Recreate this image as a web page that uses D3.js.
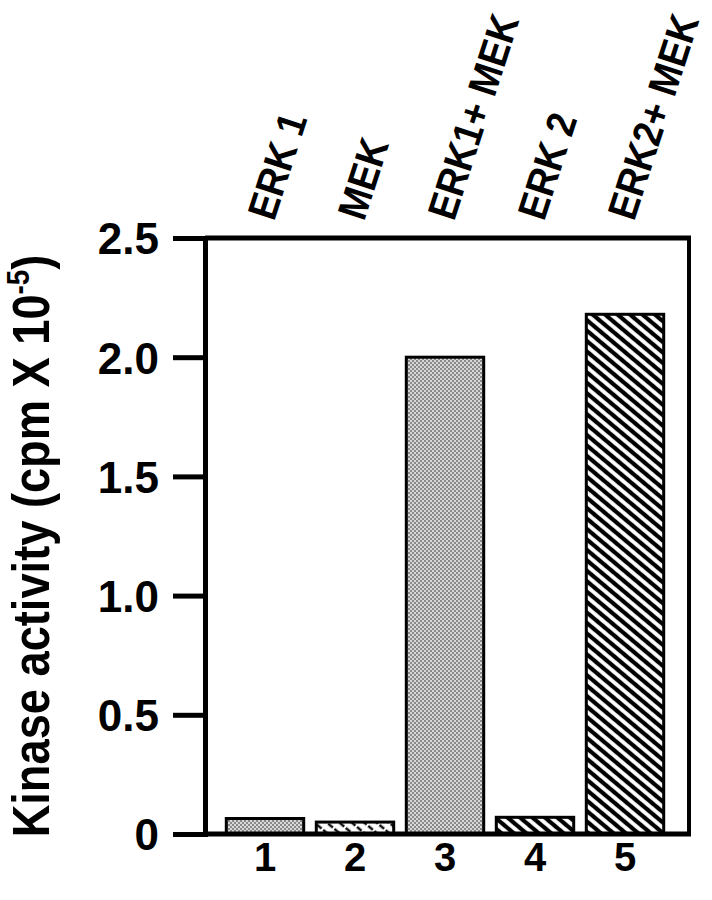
<!DOCTYPE html>
<html>
<head>
<meta charset="utf-8">
<script src="https://cdn.jsdelivr.net/npm/d3@7"></script>
<style>
  body { margin: 0; background: #fff; }
  text { font-family: "Liberation Sans", Arial, Helvetica, sans-serif; font-weight: bold; fill: #000; }
</style>
</head>
<body>
<div class="visHolder"></div>
<script>
const w = 712;
const h = 900;

// data
const lanes = ['1', '2', '3', '4', '5'];
const samples = ['ERK 1', 'MEK', 'ERK1+ MEK', 'ERK 2', 'ERK2+ MEK'];
const activity = [0.065, 0.05, 2.0, 0.07, 2.18];
const fills = ['checker', 'sparse', 'checker', 'hatch', 'hatch'];
const yTicks = [0, 0.5, 1.0, 1.5, 2.0, 2.5];

const plotLeft = 205, plotRight = 689, plotTop = 238, plotBottom = 834;

var svg = d3.select('.visHolder')
  .append('svg')
  .attr('width', w)
  .attr('height', h);

// fill patterns
var defs = svg.append('defs');

var checker = defs.append('pattern')
  .attr('id', 'checker')
  .attr('patternUnits', 'userSpaceOnUse')
  .attr('width', 4)
  .attr('height', 4);
checker.append('rect').attr('width', 4).attr('height', 4).attr('fill', '#d8d8d8');
checker.append('rect').attr('width', 2).attr('height', 2).attr('fill', '#8a8a8a');
checker.append('rect').attr('x', 2).attr('y', 2).attr('width', 2).attr('height', 2).attr('fill', '#8a8a8a');

var hatch = defs.append('pattern')
  .attr('id', 'hatch')
  .attr('patternUnits', 'userSpaceOnUse')
  .attr('width', 8)
  .attr('height', 8)
  .attr('patternTransform', 'rotate(40)');
hatch.append('rect').attr('width', 8).attr('height', 8).attr('fill', '#fff');
hatch.append('line')
  .attr('x1', 0).attr('y1', 4).attr('x2', 8).attr('y2', 4)
  .attr('stroke', '#000').attr('stroke-width', 4.2);

var sparse = defs.append('pattern')
  .attr('id', 'sparse')
  .attr('patternUnits', 'userSpaceOnUse')
  .attr('width', 8)
  .attr('height', 8)
  .attr('patternTransform', 'rotate(40)');
sparse.append('rect').attr('width', 8).attr('height', 8).attr('fill', '#fff');
sparse.append('line')
  .attr('x1', 0).attr('y1', 4).attr('x2', 8).attr('y2', 4)
  .attr('stroke', '#111').attr('stroke-width', 2.5)
  .attr('stroke-dasharray', '3,2');

const xScale = d3.scaleBand()
  .domain(lanes)
  .range([220, 670])
  .paddingInner(0.14)
  .paddingOuter(0.07);

const yScale = d3.scaleLinear()
  .domain([0, 2.5])
  .range([plotBottom, plotTop]);

// bars
svg.selectAll('rect.bar')
  .data(activity)
  .enter()
  .append('rect')
  .attr('class', 'bar')
  .attr('x', (d, i) => xScale(lanes[i]))
  .attr('y', d => yScale(d))
  .attr('width', xScale.bandwidth())
  .attr('height', d => plotBottom - yScale(d))
  .attr('fill', (d, i) => 'url(#' + fills[i] + ')')
  .attr('stroke', '#000')
  .attr('stroke-width', 3);

// frame: top and right
svg.append('line')
  .attr('x1', plotLeft).attr('y1', plotTop).attr('x2', plotRight + 2).attr('y2', plotTop)
  .attr('stroke', '#000').attr('stroke-width', 5);
svg.append('line')
  .attr('x1', plotRight).attr('y1', plotTop).attr('x2', plotRight).attr('y2', plotBottom)
  .attr('stroke', '#000').attr('stroke-width', 4);

// y axis
const yAxis = d3.axisLeft(yScale)
  .tickValues(yTicks)
  .tickSize(32)
  .tickPadding(14)
  .tickFormat(d => d === 0 ? '0' : d.toFixed(1));

var gy = svg.append('g')
  .attr('id', 'y-axis')
  .attr('transform', 'translate(' + plotLeft + ',0)')
  .call(yAxis);
gy.select('.domain').attr('stroke', '#000').attr('stroke-width', 5);
gy.selectAll('.tick line').attr('stroke', '#000').attr('stroke-width', 5);
gy.selectAll('.tick text')
  .attr('font-family', '"Liberation Sans", Arial, sans-serif')
  .attr('font-weight', 'bold')
  .attr('font-size', 44)
  .attr('dy', '0.36em');

// x axis
const xAxis = d3.axisBottom(xScale)
  .tickSize(0)
  .tickPadding(9);

var gx = svg.append('g')
  .attr('id', 'x-axis')
  .attr('transform', 'translate(0,' + plotBottom + ')')
  .call(xAxis);
gx.select('.domain').attr('d', 'M' + plotLeft + ',0H' + (plotRight + 2)).attr('stroke', '#000').attr('stroke-width', 5);
gx.selectAll('.tick text')
  .attr('font-family', '"Liberation Sans", Arial, sans-serif')
  .attr('font-weight', 'bold')
  .attr('font-size', 40);

// sample labels above the frame
svg.selectAll('text.sample')
  .data(samples)
  .enter()
  .append('text')
  .attr('class', 'sample')
  .attr('font-size', 41)
  .attr('transform', (d, i) => 'translate(' + (xScale(lanes[i]) + xScale.bandwidth() / 2 + 9) + ',222) rotate(-72) scale(0.9,1)')
  .text(d => d);

// y label, tall narrow glyphs like the original
var ylab = svg.append('text')
  .attr('transform', 'translate(49,546) rotate(-90) scale(0.87,1)')
  .attr('text-anchor', 'middle')
  .attr('font-size', 52);
ylab.append('tspan').text('Kinase activity (cpm X 10');
ylab.append('tspan').attr('font-size', 32).attr('dy', -20).text('-5');
ylab.append('tspan').attr('dy', 20).text(')');
</script>
</body>
</html>
